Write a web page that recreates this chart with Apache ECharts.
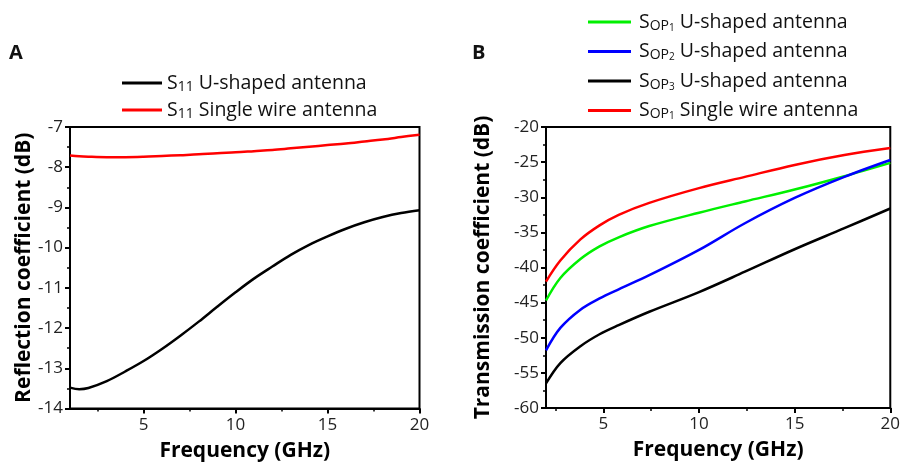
<!DOCTYPE html>
<html>
<head>
<meta charset="utf-8">
<script src="https://cdn.jsdelivr.net/npm/echarts@6/dist/echarts.min.js"></script>
<style>
  html, body { margin: 0; padding: 0; background: #fff; }
  #chart { width: 903px; height: 468px; }
</style>
</head>
<body>
<div id="chart"></div>
<script>
// Panel A: reflection coefficient
const freqA = [1, 1.5, 2, 3, 4, 5, 6, 7, 8, 9, 10, 11, 12, 13, 14, 15, 16, 17, 18, 19, 20];
const s11U = [-13.48, -13.52, -13.49, -13.32, -13.08, -12.82, -12.52, -12.19, -11.84, -11.47, -11.11, -10.77, -10.47, -10.18, -9.93, -9.72, -9.53, -9.37, -9.24, -9.14, -9.07];
const s11Wire = [-7.71, -7.73, -7.74, -7.75, -7.75, -7.74, -7.72, -7.70, -7.68, -7.65, -7.63, -7.60, -7.57, -7.53, -7.49, -7.45, -7.41, -7.36, -7.31, -7.25, -7.19];

// Panel B: transmission coefficient
const freqB = [2, 2.75, 3.8, 4.8, 5.8, 7.4, 10, 12.4, 15, 17.6, 20];
const sop1U = [-44.7, -41.5, -38.8, -37.0, -35.7, -34.1, -32.2, -30.6, -28.9, -27.0, -25.1];
const sop2U = [-51.8, -48.6, -46.0, -44.4, -43.1, -41.1, -37.5, -33.7, -30.1, -27.1, -24.7];
const sop3U = [-56.5, -53.6, -51.2, -49.5, -48.2, -46.3, -43.5, -40.6, -37.4, -34.4, -31.6];
const sop1Wire = [-42.0, -39.0, -36.0, -34.0, -32.5, -30.8, -28.7, -27.1, -25.4, -24.0, -23.0];

const xMajor = [5, 10, 15, 20];
const xMinor = [2.5, 7.5, 12.5, 17.5];

const FONT = 'Open Sans';
const names = {
  aU: 'S11 U-shaped antenna',
  aW: 'S11 Single wire antenna',
  b1: 'SOP1 U-shaped antenna',
  b2: 'SOP2 U-shaped antenna',
  b3: 'SOP3 U-shaped antenna',
  bW: 'SOP1 Single wire antenna',
};
const richLabel = {
  [names.aU]: '{s|S}{sub|11}{t| U-shaped antenna}',
  [names.aW]: '{s|S}{sub|11}{t| Single wire antenna}',
  [names.b1]: '{sp|S}{sub|OP}{sub2|1}{t| U-shaped antenna}',
  [names.b2]: '{sp|S}{sub|OP}{sub2|2}{t| U-shaped antenna}',
  [names.b3]: '{sp|S}{sub|OP}{sub2|3}{t| U-shaped antenna}',
  [names.bW]: '{sp|S}{sub|OP}{sub2|1}{t| Single wire antenna}',
};
const rich = {
  s: { fontFamily: FONT, fontSize: 19.5, lineHeight: 22, color: '#111' },
  sp: { fontFamily: FONT, fontSize: 19.5, lineHeight: 22, color: '#111', padding: [0, 0, 0, 3] },
  t: { fontFamily: FONT, fontSize: 19.5, lineHeight: 22, color: '#111' },
  sub: { fontFamily: FONT, fontSize: 14, lineHeight: 8, verticalAlign: 'bottom', color: '#111' },
  sub2: { fontFamily: FONT, fontSize: 10, lineHeight: 2, verticalAlign: 'bottom', color: '#111' },
};

const axisText = { color: '#222', fontSize: 17, fontFamily: FONT };
const nameText = { color: '#000', fontSize: 21, fontWeight: 'bold', fontFamily: FONT };
const blackLine = { lineStyle: { color: '#000', width: 2 } };

function mainX(grid, min) {
  return {
    type: 'value', gridIndex: grid, min: min, max: 20,
    name: 'Frequency (GHz)', nameLocation: 'middle', nameGap: 32, nameTextStyle: nameText,
    axisLine: blackLine,
    axisTick: { length: 5, lineStyle: { color: '#000', width: 2 }, customValues: xMajor },
    axisLabel: Object.assign({ margin: 8, customValues: xMajor }, axisText),
    splitLine: { show: false },
  };
}
function minorX(grid, min) {
  return {
    type: 'value', gridIndex: grid, min: min, max: 20, position: 'bottom',
    axisLine: { show: false },
    axisTick: { length: 3, lineStyle: { color: '#000', width: 1.5 }, customValues: xMinor },
    axisLabel: { show: false },
    splitLine: { show: false },
  };
}
function yAx(grid, min, max, interval, name, gap) {
  return {
    type: 'value', gridIndex: grid, min: min, max: max, interval: interval,
    name: name, nameLocation: 'middle', nameGap: gap, nameTextStyle: nameText,
    axisLine: blackLine,
    axisTick: { length: 5, lineStyle: { color: '#000', width: 2 } },
    minorTick: { show: true, splitNumber: 2, length: 3, lineStyle: { color: '#000', width: 1.5 } },
    axisLabel: Object.assign({ margin: 7 }, axisText),
    splitLine: { show: false },
  };
}
function line(name, xs, ys, color, xi, yi) {
  return {
    name: name, type: 'line', xAxisIndex: xi, yAxisIndex: yi,
    data: xs.map((x, i) => [x, ys[i]]),
    smooth: 0.35, showSymbol: false,
    lineStyle: { color: color, width: 2.5 },
    itemStyle: { color: color },
  };
}

const chart = echarts.init(document.getElementById('chart'));
chart.setOption({
  animation: false,
  grid: [
    { left: 70, top: 127, width: 349.5, height: 281.5, show: true, borderColor: '#000', borderWidth: 2 },
    { left: 546, top: 127, width: 346.5, height: 281, show: true, borderColor: '#000', borderWidth: 2 },
  ],
  graphic: [
    { type: 'text', left: 9, top: 43, style: { text: 'A', fontSize: 20, fontWeight: 'bold', fontFamily: FONT, fill: '#111' } },
    { type: 'text', left: 472, top: 43, style: { text: 'B', fontSize: 20, fontWeight: 'bold', fontFamily: FONT, fill: '#111' } },
  ],
  legend: [
    {
      orient: 'vertical', left: 117, top: 68, itemGap: 6, itemWidth: 40, itemHeight: 3, icon: 'rect',
      data: [names.aU, names.aW],
      formatter: (n) => richLabel[n],
      textStyle: { rich: rich },
    },
    {
      orient: 'vertical', left: 583, top: 7, itemGap: 8.5, itemWidth: 43, itemHeight: 3, icon: 'rect',
      data: [names.b1, names.b2, names.b3, names.bW],
      formatter: (n) => richLabel[n],
      textStyle: { rich: rich },
    },
  ],
  xAxis: [mainX(0, 1), minorX(0, 1), mainX(1, 2), minorX(1, 2)],
  yAxis: [
    yAx(0, -14, -7, 1, 'Reflection coefficient (dB)', 33),
    yAx(1, -60, -20, 5, 'Transmission coefficient (dB)', 52),
  ],
  series: [
    line(names.aU, freqA, s11U, '#000000', 0, 0),
    line(names.aW, freqA, s11Wire, '#ff0000', 0, 0),
    line(names.b1, freqB, sop1U, '#00f000', 2, 1),
    line(names.b2, freqB, sop2U, '#0000ff', 2, 1),
    line(names.b3, freqB, sop3U, '#000000', 2, 1),
    line(names.bW, freqB, sop1Wire, '#ff0000', 2, 1),
  ],
});
</script>
</body>
</html>
